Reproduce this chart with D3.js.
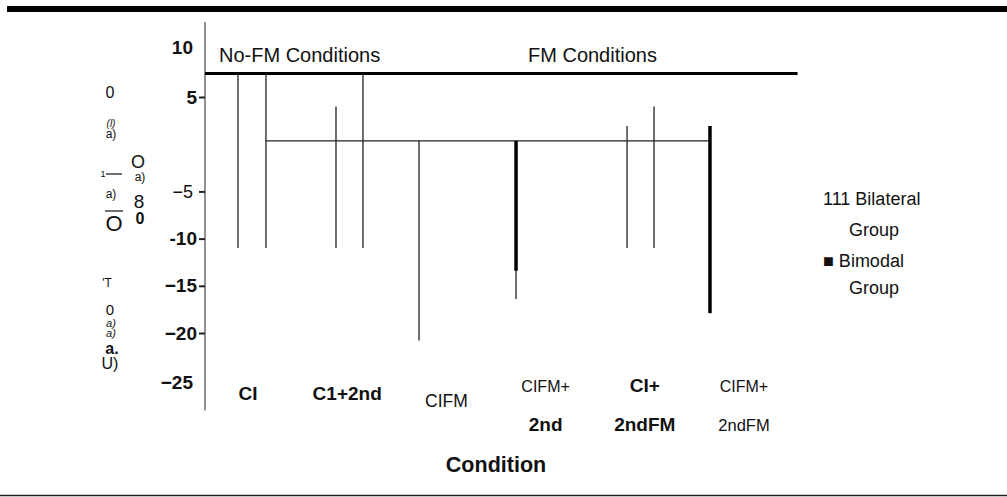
<!DOCTYPE html>
<html>
<head>
<meta charset="utf-8">
<script src="https://cdn.jsdelivr.net/npm/d3@7"></script>
<style>
  html, body { margin: 0; padding: 0; background: #fff; }
  svg { display: block; }
  text { font-family: "Liberation Sans", Arial, Helvetica, sans-serif; fill: #111; }
</style>
</head>
<body>
<svg id="chart" width="1007" height="497"></svg>
<script>
// ---------------- data ----------------
const categories = ["CI", "C1+2nd", "CIFM", "CIFM+ 2nd", "CI+ 2ndFM", "CIFM+ 2ndFM"];
const categoryLine1 = ["CI", "C1+2nd", "CIFM", "CIFM+", "CI+", "CIFM+"];
const categoryLine2 = ["", "", "", "2nd", "2ndFM", "2ndFM"];

const yTickValues = [10, 5, -5, -10, -15, -20, -25];
const yTickLabels = ["10", "5", "\u22125", "-10", "\u221215", "\u221220", "\u221225"];

// thin vertical lines (position in category units, top and bottom values)
const thinPos    = [0.399, 0.681, 1.387, 1.659, 2.224, 3.202, 4.321, 4.593];
const thinTop    = [7.5, 7.5, 4.0, 7.5, 0.35, 0.35, 1.93, 4.0];
const thinBottom = [-11.0, -11.0, -11.0, -11.0, -20.8, -16.4, -11.0, -11.0];

// thick vertical lines
const thickPos    = [3.202, 5.157];
const thickTop    = [0.35, 1.93];
const thickBottom = [-13.4, -17.9];

// horizontal reference lines
const refLineValue = 0.35, refLineFrom = 0.681, refLineTo = 5.157;
const headerLineValue = 7.5, headerLineTo = 6.04;

const groupHeaders = ["No-FM Conditions", "FM Conditions"];
const legendLines = ["111 Bilateral", "Group", "\u25A0 Bimodal", "Group"];
const xTitle = "Condition";

// garbled rotated y title fragments
const yTitleBits = [
  {t: "0", x: 110, y: 98, s: 16},
  {t: "(l)", x: 111, y: 127, s: 10, i: true},
  {t: "a)", x: 111, y: 138, s: 12},
  {t: "O", x: 138, y: 168, s: 18, serif: true},
  {t: "a)", x: 140, y: 181, s: 12},
  {t: "a)", x: 111, y: 198, s: 12},
  {t: "8", x: 139, y: 208, s: 19, serif: true},
  {t: "0", x: 140, y: 224, s: 16, b: true},
  {t: "O", x: 114, y: 231, s: 22, serif: true},
  {t: "'T", x: 107, y: 287, s: 12},
  {t: "0", x: 110, y: 315, s: 15},
  {t: "a)", x: 111, y: 327, s: 11, i: true},
  {t: "a)", x: 111, y: 337, s: 11, i: true},
  {t: "a.", x: 112, y: 354, s: 16, b: true},
  {t: "U)", x: 110, y: 369, s: 16}
];

// ---------------- drawing ----------------
const svg = d3.select("#chart");
const W = 1007, H = 497;

const y = d3.scaleLinear().domain([-25, 10]).range([380.2, 49.8]);
const xc = d3.scaleLinear().domain([0, 6]).range([198.4, 793.6]);
const xb = d3.scaleBand().domain(categories).range([198.4, 793.6]);
const axisX = 205;

// top band and bottom rule
svg.append("rect").attr("x", 7).attr("y", 6).attr("width", W - 7).attr("height", 6).attr("fill", "#000");
svg.append("line").attr("x1", 0).attr("x2", W).attr("y1", 495.5).attr("y2", 495.5)
  .attr("stroke", "#222").attr("stroke-width", 1.5);

// y axis line
svg.append("line").attr("x1", axisX).attr("x2", axisX)
  .attr("y1", y(12.95)).attr("y2", y(-28.2))
  .attr("stroke", "#555").attr("stroke-width", 1.3);

// y axis ticks and labels
const yAxis = d3.axisLeft(y).tickValues(yTickValues).tickSize(6).tickPadding(2)
  .tickFormat((d, i) => yTickLabels[i]);
const gY = svg.append("g").attr("transform", `translate(${axisX},0)`).call(yAxis);
gY.select(".domain").remove();
gY.selectAll(".tick line").attr("stroke", "#222").attr("stroke-width", 2)
  .attr("display", d => (d === 10 || d === -25) ? "none" : null);
gY.selectAll(".tick text")
  .attr("font-family", "'Liberation Sans', Arial, sans-serif")
  .attr("font-size", d => d === -5 ? 18 : 19)
  .attr("font-weight", d => d === -5 ? "normal" : "bold")
  .attr("fill", "#111")
  .attr("x", d => (d === -5 || d === 10 || d === -25) ? -12 : -8)
  .attr("dy", d => d === 10 ? "0.2em" : (d === -25 ? "0.45em" : "0.32em"));

// header thick line
svg.append("line").attr("x1", axisX).attr("x2", xc(headerLineTo))
  .attr("y1", y(headerLineValue)).attr("y2", y(headerLineValue))
  .attr("stroke", "#000").attr("stroke-width", 3);

// reference thin horizontal line
svg.append("line").attr("x1", xc(refLineFrom)).attr("x2", xc(refLineTo))
  .attr("y1", y(refLineValue)).attr("y2", y(refLineValue))
  .attr("stroke", "#222").attr("stroke-width", 1.3);

// thin verticals
svg.append("g").selectAll("line").data(thinPos).join("line")
  .attr("x1", d => xc(d)).attr("x2", d => xc(d))
  .attr("y1", (d, i) => y(thinTop[i])).attr("y2", (d, i) => y(thinBottom[i]))
  .attr("stroke", "#222").attr("stroke-width", 1.3);

// thick verticals
svg.append("g").selectAll("line").data(thickPos).join("line")
  .attr("x1", d => xc(d)).attr("x2", d => xc(d))
  .attr("y1", (d, i) => y(thickTop[i])).attr("y2", (d, i) => y(thickBottom[i]))
  .attr("stroke", "#000").attr("stroke-width", 3.5);

// group headers
svg.append("text").attr("x", 219).attr("y", 61.5).attr("font-size", 20).text(groupHeaders[0]);
svg.append("text").attr("x", 528).attr("y", 61.5).attr("font-size", 20).text(groupHeaders[1]);

// category labels
const line1Bold = [true, true, false, false, true, false];
const line2Bold = [false, false, false, true, true, false];
const line1Size = [19, 19, 17.5, 16, 19, 16];
const line2Size = [16, 16, 16, 19, 19, 16.5];
const line1Y = [400, 400, 407, 392, 392, 392];
svg.append("g").selectAll("text").data(categories).join("text")
  .attr("x", d => xb(d) + xb.bandwidth() / 2)
  .attr("y", (d, i) => line1Y[i])
  .attr("text-anchor", "middle")
  .attr("font-size", (d, i) => line1Size[i])
  .attr("font-weight", (d, i) => line1Bold[i] ? "bold" : "normal")
  .text((d, i) => categoryLine1[i]);
svg.append("g").selectAll("text").data(categories).join("text")
  .attr("x", d => xb(d) + xb.bandwidth() / 2)
  .attr("y", 431)
  .attr("text-anchor", "middle")
  .attr("font-size", (d, i) => line2Size[i])
  .attr("font-weight", (d, i) => line2Bold[i] ? "bold" : "normal")
  .text((d, i) => categoryLine2[i]);

// x title
svg.append("text").attr("x", 496).attr("y", 472).attr("text-anchor", "middle")
  .attr("font-size", 21.5).attr("font-weight", "bold").text(xTitle);

// legend
const legX = [823, 849, 823, 849];
const legY = [205, 236, 267, 294];
svg.append("g").selectAll("text").data(legendLines).join("text")
  .attr("x", (d, i) => legX[i]).attr("y", (d, i) => legY[i])
  .attr("font-size", 18).text(d => d);

// garbled y title fragments
const gt = svg.append("g");
gt.selectAll("text").data(yTitleBits).join("text")
  .attr("x", d => d.x).attr("y", d => d.y)
  .attr("text-anchor", "middle")
  .attr("font-size", d => d.s)
  .attr("font-style", d => d.i ? "italic" : "normal")
  .attr("font-weight", d => d.b ? "bold" : "normal")
  .attr("font-family", d => d.serif ? "'Liberation Serif', 'Times New Roman', serif" : "'Liberation Sans', Arial, sans-serif")
  .text(d => d.t);
// small dash mark and overline bits
gt.append("text").attr("x", 103).attr("y", 177).attr("font-size", 9).attr("text-anchor", "middle").text("1");
gt.append("line").attr("x1", 106).attr("x2", 122).attr("y1", 174).attr("y2", 174).attr("stroke", "#222").attr("stroke-width", 1.3);
gt.append("line").attr("x1", 105).attr("x2", 123).attr("y1", 211).attr("y2", 211).attr("stroke", "#222").attr("stroke-width", 1.3);
</script>
</body>
</html>
